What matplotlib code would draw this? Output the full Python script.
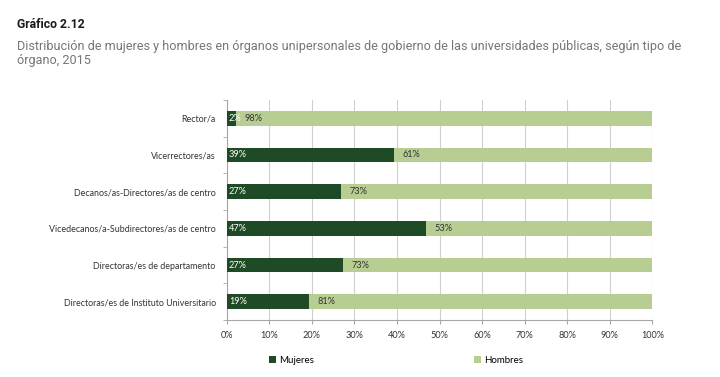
import matplotlib.pyplot as plt
import numpy as np

categorias = ['Rector/a', 'Vicerrectores/as', 'Decanos/as-Directores/as de centro',
              'Vicedecanos/a-Subdirectores/as de centro', 'Directoras/es de departamento',
              'Directoras/es de Instituto Universitario']
mujeres = [2.2, 39.3, 26.8, 46.8, 27.4, 19.4]
hombres = [97.8, 60.7, 73.2, 53.2, 72.6, 80.6]
etiquetas_mujeres = ['2%', '39%', '27%', '47%', '27%', '19%']
etiquetas_hombres = ['98%', '61%', '73%', '53%', '73%', '81%']
ticks_x = [0, 10, 20, 30, 40, 50, 60, 70, 80, 90, 100]

color_m = '#1f4a26'
color_h = '#b7cd92'
gris = '#a6a6a6'

plt.rcParams['font.family'] = ['Lato', 'DejaVu Sans']

fig = plt.figure(figsize=(7.2, 3.77), dpi=100)
ax = fig.add_axes([0.315, 0.151, 0.591, 0.584])

y = np.arange(len(categorias))
alto = 0.4
ax.barh(y, mujeres, height=alto, color=color_m, label='Mujeres', zorder=3)
ax.barh(y, hombres, left=mujeres, height=alto, color=color_h, label='Hombres', zorder=3)

for i in range(len(categorias)):
    ax.text(0.5, y[i], etiquetas_mujeres[i], color='white', fontsize=6.6, va='center', ha='left', zorder=4)
    ax.text(mujeres[i] + 2.0, y[i], etiquetas_hombres[i], color='#333333', fontsize=6.6,
            va='center', ha='left', zorder=4)

ax.set_xlim(0, 100)
ax.set_ylim(len(categorias) - 0.5, -0.5)
ax.set_xticks(ticks_x)
ax.set_xticklabels([str(t) + '%' for t in ticks_x], fontsize=6.6, color='#333333')
ax.set_yticks(y)
ax.set_yticklabels(categorias, fontsize=6.4, color='#333333')
ax.tick_params(axis='y', length=0, pad=8)
ax.set_yticks(np.arange(-0.5, len(categorias), 1), minor=True)
ax.tick_params(axis='y', which='minor', length=3, color=gris)
ax.tick_params(axis='x', length=3, color=gris, pad=5)
ax.grid(axis='x', color='#cfcfcf', linewidth=0.8, zorder=0)
for lado in ['top', 'right']:
    ax.spines[lado].set_visible(False)
ax.spines['left'].set_color(gris)
ax.spines['bottom'].set_color(gris)

fig.legend(loc='center', bbox_to_anchor=(0.55, 0.045), ncol=2, frameon=False, fontsize=7,
           handlelength=0.7, handleheight=0.7, handletextpad=0.3, columnspacing=16.5)

fig.text(0.024, 0.934, 'Gráfico 2.12', fontsize=8.8, fontweight='bold', color='#1a1a1a',
         family=['Roboto', 'DejaVu Sans'], va='center')
fig.text(0.024, 0.894, 'Distribución de mujeres y hombres en órganos unipersonales de gobierno de las universidades públicas, según tipo de\nórgano, 2015',
         fontsize=9.1, color='#767676', family=['Roboto', 'DejaVu Sans'], va='top',
         linespacing=1.1)

fig.savefig('out.png', dpi=100)
